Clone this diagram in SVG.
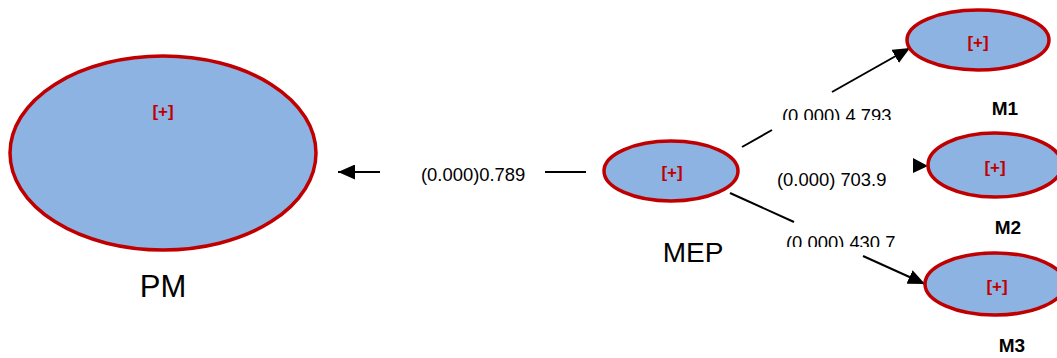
<svg xmlns="http://www.w3.org/2000/svg" width="1057" height="358" viewBox="0 0 1057 358">
<style>
.node{fill:#8db3e2;stroke:#c00000;stroke-width:3.5}
.plus{font-family:"Liberation Sans",Arial,sans-serif;font-weight:bold;font-size:17px;fill:#c00000;text-anchor:middle}
.name{font-family:"Liberation Sans",Arial,sans-serif;fill:#000;text-anchor:middle}
.small{font-weight:bold;font-size:19px}
.lbl{font-family:"Liberation Sans",Arial,sans-serif;font-size:18.4px;fill:#000}
.edge{stroke:#000;stroke-width:2;fill:none}
</style>
<defs>
<marker id="ah" markerUnits="userSpaceOnUse" markerWidth="17" markerHeight="15" refX="17" refY="7.5" orient="auto">
<path d="M0,0 L17,7.5 L0,15 z" fill="#000"/>
</marker>
<clipPath id="c1"><rect x="770" y="95" width="130" height="25"/></clipPath>
<clipPath id="c3"><rect x="770" y="225" width="130" height="22"/></clipPath>
</defs>
<rect width="1057" height="358" fill="#fff"/>
<g id="connectors">
<line class="edge" x1="380" y1="172" x2="338" y2="172" marker-end="url(#ah)"/>
<line class="edge" x1="545" y1="172" x2="586" y2="172"/>
<line class="edge" x1="742" y1="147" x2="772" y2="130"/>
<line class="edge" x1="832" y1="92" x2="910" y2="48" marker-end="url(#ah)"/>
<path d="M913,158 L928,166 L913,173 z" fill="#000"/>
<line class="edge" x1="730" y1="193" x2="794" y2="222"/>
<line class="edge" x1="863" y1="256" x2="925" y2="284" marker-end="url(#ah)"/>
<text class="lbl" x="421" y="181">(0.000)0.789</text>
<text class="lbl" x="782" y="122" clip-path="url(#c1)">(0.000) 4.793</text>
<text class="lbl" x="777" y="186">(0.000) 703.9</text>
<text class="lbl" x="786" y="249" clip-path="url(#c3)">(0.000) 430.7</text>
</g>
<g id="PM">
<ellipse class="node" cx="163" cy="153" rx="153" ry="97"/>
<text class="plus" x="163" y="117">[+]</text>
<text class="name" x="163" y="297" font-size="31">PM</text>
</g>
<g id="MEP">
<ellipse class="node" cx="671" cy="171" rx="67" ry="30"/>
<text class="plus" x="672" y="178">[+]</text>
<text class="name" x="693" y="262" font-size="28">MEP</text>
</g>
<g id="M1">
<ellipse class="node" cx="978" cy="40" rx="71" ry="30"/>
<text class="plus" x="978" y="48">[+]</text>
<text class="name small" x="1005" y="115">M1</text>
</g>
<g id="M2">
<ellipse class="node" cx="995" cy="165" rx="67" ry="32"/>
<text class="plus" x="995" y="173">[+]</text>
<text class="name small" x="1008" y="234">M2</text>
</g>
<g id="M3">
<ellipse class="node" cx="995" cy="284" rx="70" ry="31"/>
<text class="plus" x="997" y="292">[+]</text>
<text class="name small" x="1012" y="352">M3</text>
</g>
</svg>
